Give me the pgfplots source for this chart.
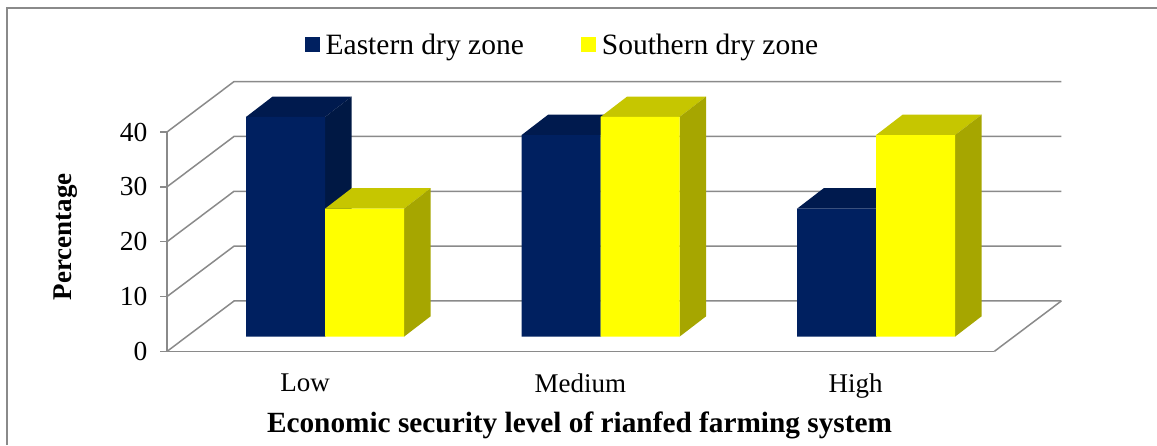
\documentclass[border=0pt]{standalone}
\usepackage{pgfplots}
\usepackage{pgfplotstable}
\usepackage{fontspec}
\setmainfont{Liberation Serif}
\pgfplotsset{compat=1.18}

\definecolor{navyfront}{HTML}{002060}
\definecolor{navytop}{HTML}{001A4E}
\definecolor{navyside}{HTML}{001844}
\definecolor{yellowfront}{HTML}{FFFF00}
\definecolor{yellowtop}{HTML}{C6C600}
\definecolor{yellowside}{HTML}{A6A600}
\definecolor{wallline}{HTML}{8A8A8A}

% percentage of holdings per level (0 = Low, 1 = Medium, 2 = High)
\pgfplotstableread{
level eastern southern
0     40.0    23.3
1     36.7    40.0
2     23.3    36.7
}\securitydata

% bar proportions in axis units: width, depth offset in x, depth offset in y
\newcommand{\barw}{0.2868}
\newcommand{\depthx}{0.0969}
\newcommand{\depthy}{3.73}

% top and side faces of a bar whose front left corner sits at #1 with height #2
\newcommand{\barfaces}[4]{%
  \pgfmathsetmacro{\xa}{#1}%
  \pgfmathsetmacro{\xb}{#1+\barw}%
  \pgfmathsetmacro{\xc}{#1+\barw+\depthx}%
  \pgfmathsetmacro{\xd}{#1+\depthx}%
  \pgfmathsetmacro{\yt}{#2+\depthy}%
  \edef\temp{\noexpand\addplot[fill=#3,draw=none,forget plot] coordinates
    {(\xa,#2) (\xb,#2) (\xc,\yt) (\xd,\yt)} --cycle;
    \noexpand\addplot[fill=#4,draw=none,forget plot] coordinates
    {(\xb,#2) (\xc,\yt) (\xc,\depthy) (\xb,0)} --cycle;}%
  \temp
}

\begin{document}
\begin{tikzpicture}
\useasboundingbox (0,0) rectangle (1157pt,445pt);

% chart box and the three-sided wall frame with the labelled axes
\begin{axis}[
  at={(167pt,93.6pt)}, anchor=south west,
  scale only axis, width=827.3pt, height=219.4pt,
  xmin=-0.5013, xmax=2.504, ymin=0, ymax=40,
  clip=false,
  axis x line*=bottom, axis y line*=left,
  axis line style={draw=wallline,line width=1.5pt,-},
  xtick={0,1,2}, xticklabels={Low,Medium,High},
  ytick={0,10,20,30,40},
  major x tick style={draw=none},
  major y tick style={draw=wallline,line width=1.5pt},
  tick align=outside, major tick length=7pt,
  /pgf/number format/assume math mode=true,
  yticklabel style={font=\fontsize{27.5}{29}\selectfont,text=black,xshift=-9pt},
  xticklabel style={font=\fontsize{27}{29}\selectfont,text=black,yshift=-12pt},
  every axis y label/.style={at={(axis description cs:-0.1225,0.5215)},rotate=90,anchor=center},
  every axis x label/.style={at={(axis description cs:0.4986,-0.3355)},anchor=center},
  ylabel={\fontsize{27}{29}\selectfont\bfseries Percentage},
  xlabel={\fontsize{29.3}{31}\selectfont\bfseries Economic security level of rianfed farming system},
]
\pgfplotsinvokeforeach{0,10,20,30,40}{
  \draw[wallline,line width=1.5pt]
    (axis cs:-0.5013,#1) -- (axis cs:-0.2579,#1+9.19) -- (axis cs:2.7474,#1+9.19);
}
\draw[wallline,line width=1.5pt] (axis cs:2.504,0) -- (axis cs:2.7474,9.19);
\end{axis}

% bars: their base plane lies in front of the floor, with y = 0 at the bar foot
\begin{axis}[
  at={(0pt,0pt)}, anchor=south west,
  scale only axis, width=1157pt, height=445pt,
  xmin=-1.1797, xmax=3.020, ymin=-19.72, ymax=61.30,
  axis lines=none, clip=false,
  legend image code/.code={\fill[#1] (0pt,-7.5pt) rectangle (15pt,7.5pt);\path (19pt,0pt);},
  legend style={draw=none,fill=none,legend columns=2,
    at={(axis cs:-0.0855,53.13)},anchor=west,
    font=\fontsize{29.5}{31}\selectfont,
    /tikz/every even column/.append style={column sep=55pt}},
]
\draw[wallline,line width=1.7pt] (axis cs:-1.1543,-19.72) -- (axis cs:-1.1543,59.84) -- (axis cs:3.020,59.84);

\barfaces{-0.2868}{40.0}{navytop}{navyside}
\barfaces{0.7132}{36.7}{navytop}{navyside}
\barfaces{1.7132}{23.3}{navytop}{navyside}
\addplot[ybar,bar width=79pt,bar shift=-39.5pt,fill=navyfront,draw=none]
  table[x=level,y=eastern] {\securitydata};
\addlegendentry{Eastern dry zone}

\barfaces{0}{23.3}{yellowtop}{yellowside}
\barfaces{1}{40.0}{yellowtop}{yellowside}
\barfaces{2}{36.7}{yellowtop}{yellowside}
\addplot[ybar,bar width=79pt,bar shift=39.5pt,fill=yellowfront,draw=none]
  table[x=level,y=southern] {\securitydata};
\addlegendentry{Southern dry zone}
\end{axis}
\end{tikzpicture}
\end{document}
